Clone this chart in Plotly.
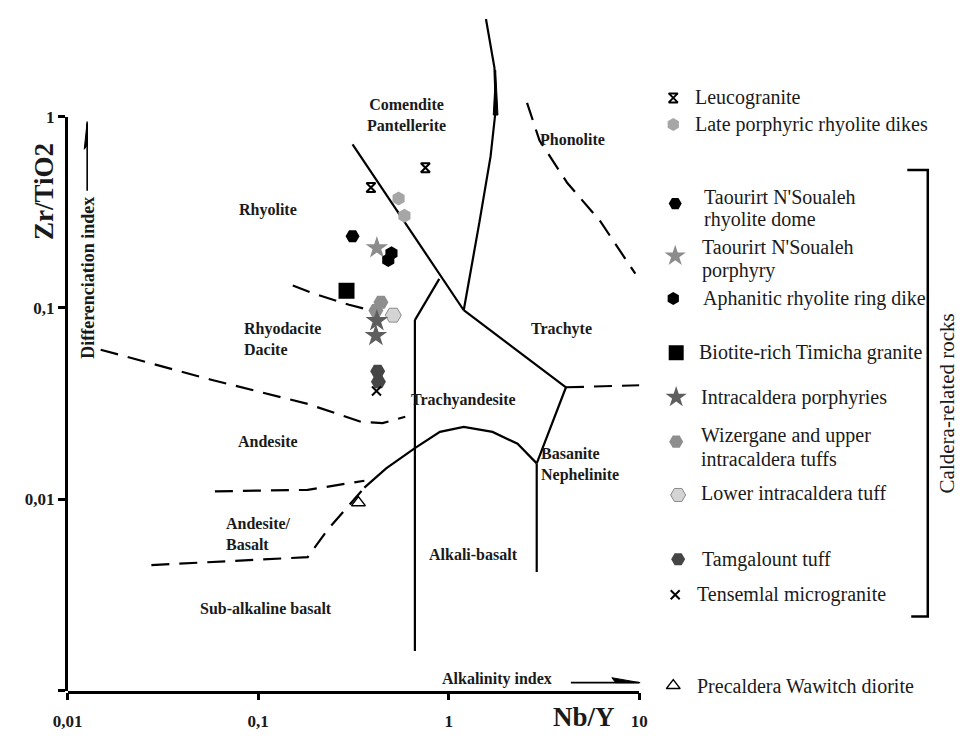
import plotly.graph_objects as go

# ---- figure geometry (pixels) ----
W, H = 968, 736
X0, X1 = 54, 640        # x axis: Nb/Y 0.01 .. 10
YB, YT = 690, 10        # y axis: Zr/TiO2 0.001 .. top of drawing
Y1 = 109                # pixel row of Zr/TiO2 = 1 (top of ruled axis)

# ---- field boundaries (Nb/Y, Zr/TiO2) ----
comendite_x = [0.313, 1.20]
comendite_y = [0.717, 0.0973]
phono_solid_x = [1.57, 1.74, 1.77, 1.66, 1.45, 1.20]
phono_solid_y = [3.24, 1.80, 1.11, 0.62, 0.28, 0.0973]
phono_head_x = [1.765, 1.715, 1.815, 1.765]
phono_head_y = [1.75, 1.02, 1.02, 1.75]
rhy_trachy_x = [0.893, 0.665]
rhy_trachy_y = [0.142, 0.0864]
subalk_x = [0.665, 0.665]
subalk_y = [0.0864, 0.00161]
trachyte_x = [1.20, 4.13, 2.90]
trachyte_y = [0.0973, 0.0385, 0.0154]
basanite_x = [2.90, 2.90]
basanite_y = [0.0154, 0.00417]
alkbas_x = [0.361, 0.47, 0.665, 0.90, 1.20, 1.70, 2.30, 2.90]
alkbas_y = [0.0115, 0.0145, 0.0185, 0.0225, 0.0239, 0.0225, 0.0195, 0.0154]

phon_trachy_x = [2.58, 3.0, 4.2, 6.25, 9.55]
phon_trachy_y = [1.18, 0.75, 0.45, 0.284, 0.151]
trachyte_tail_x = [4.13, 10.6]
trachyte_tail_y = [0.0385, 0.0395]
rhyodac_x = [0.152, 0.20, 0.30, 0.425]
rhyodac_y = [0.131, 0.118, 0.104, 0.095]
andesite_x = [0.0149, 0.056, 0.182, 0.347, 0.45, 0.592]
andesite_y = [0.0605, 0.0423, 0.0315, 0.0254, 0.0250, 0.0270]
andbas_x = [0.0593, 0.182, 0.361]
andbas_y = [0.0110, 0.0112, 0.0125]
subbas_x = [0.0275, 0.182, 0.230, 0.361]
subbas_y = [0.00453, 0.00498, 0.00687, 0.0115]

# ---- samples ----
leuco_x = [0.755, 0.391];   leuco_y = [0.541, 0.426]
dikes_x = [0.546, 0.586];   dikes_y = [0.374, 0.303]
dome_x = [0.313];           dome_y = [0.237]
tporph_x = [0.420];         tporph_y = [0.206]
aphan_x = [0.501, 0.482];   aphan_y = [0.193, 0.178]
biotite_x = [0.291];        biotite_y = [0.123]
wizer_x = [0.441, 0.415];   wizer_y = [0.107, 0.097]
lower_x = [0.512];          lower_y = [0.0917]
intra_x = [0.420, 0.415];   intra_y = [0.0857, 0.0717]
tamga_x = [0.424, 0.428];   tamga_y = [0.0467, 0.0412]
tensem_x = [0.418];         tensem_y = [0.0368]
diorite_x = [0.336];        diorite_y = [0.0096]

FONT = "Liberation Serif"
INK = "#1a1a1a"

fig = go.Figure()

def boundary(x, y, dash="solid", width=2.2):
    fig.add_trace(go.Scatter(x=x, y=y, mode="lines", showlegend=False, hoverinfo="skip",
                             line=dict(color="black", width=width, dash=dash)))

for bx, by in [(comendite_x, comendite_y), (phono_solid_x, phono_solid_y),
               (rhy_trachy_x, rhy_trachy_y), (subalk_x, subalk_y),
               (trachyte_x, trachyte_y), (basanite_x, basanite_y), (alkbas_x, alkbas_y)]:
    boundary(bx, by, "solid")
for bx, by in [(phon_trachy_x, phon_trachy_y), (trachyte_tail_x, trachyte_tail_y),
               (rhyodac_x, rhyodac_y), (andesite_x, andesite_y),
               (andbas_x, andbas_y), (subbas_x, subbas_y)]:
    boundary(bx, by, "18px,10px")

# slim arrowhead on the phonolite boundary
fig.add_trace(go.Scatter(x=phono_head_x, y=phono_head_y, mode="lines", fill="toself",
                         fillcolor="black", showlegend=False, hoverinfo="skip",
                         line=dict(color="black", width=1)))

# sample series: (x, y, symbol, size, fill, outline colour, outline width)
series = [
    (leuco_x, leuco_y, "hourglass-open", 9, "black", "black", 2),
    (dikes_x, dikes_y, "hexagon", 14, "#a6a6a6", "#a6a6a6", 0),
    (dome_x, dome_y, "hexagon2", 14, "black", "black", 0),
    (tporph_x, tporph_y, "star", 17, "#8c8c8c", "#8c8c8c", 0),
    (aphan_x, aphan_y, "hexagon", 14, "black", "black", 0),
    (biotite_x, biotite_y, "square", 16, "black", "black", 0),
    (wizer_x, wizer_y, "hexagon2", 15, "#8e8e8e", "#8e8e8e", 0),
    (lower_x, lower_y, "hexagon2", 16, "#d4d4d4", "#8a8a8a", 1),
    (intra_x, intra_y, "star", 17, "#5e5e5e", "#5e5e5e", 0),
    (tamga_x, tamga_y, "hexagon2", 15, "#454545", "#454545", 0),
    (tensem_x, tensem_y, "x-thin-open", 9, "black", "black", 2),
    (diorite_x, diorite_y, "triangle-up-open", 12, "black", "black", 1.5),
]
for sx, sy, sym, sz, fc, lc, lw in series:
    fig.add_trace(go.Scatter(x=sx, y=sy, mode="markers", showlegend=False, hoverinfo="skip",
                             marker=dict(symbol=sym, size=sz, color=fc,
                                         line=dict(color=lc, width=lw))))

# ruled y axis (0.001 .. 1) drawn on its own axis so it stops at 1
fig.add_trace(go.Scatter(x=[None], y=[None], xaxis="x", yaxis="y2", showlegend=False))

# ---- legend, drawn on a pixel overlay ----
# (symbol, size, fill, outline, outline width, marker x, marker y, text lines with their rows, text x)
legend_items = [
    ("hourglass-open", 9, "black", "black", 2, 675, 90, [("Leucogranite", 90)], 695),
    ("hexagon", 13, "#a6a6a6", "#a6a6a6", 0, 675, 117, [("Late porphyric rhyolite dikes", 117)], 695),
    ("hexagon2", 13, "black", "black", 0, 677, 197,
     [("Taourirt N'Soualeh", 190), ("rhyolite dome", 213)], 704),
    ("star", 16, "#8c8c8c", "#8c8c8c", 0, 677, 250,
     [("Taourirt N'Soualeh", 241), ("porphyry", 265)], 702),
    ("hexagon", 13, "black", "black", 0, 675, 293, [("Aphanitic rhyolite ring dike", 293)], 703),
    ("square", 15, "black", "black", 0, 678, 348, [("Biotite-rich Timicha granite", 348)], 699),
    ("star", 16, "#5e5e5e", "#5e5e5e", 0, 678, 393, [("Intracaldera porphyries", 393)], 701),
    ("hexagon2", 14, "#8e8e8e", "#8e8e8e", 0, 678, 438,
     [("Wizergane and upper", 432), ("intracaldera tuffs", 456)], 701),
    ("hexagon2", 15, "#d4d4d4", "#8a8a8a", 1, 680, 492, [("Lower intracaldera tuff", 490)], 701),
    ("hexagon2", 14, "#454545", "#454545", 0, 680, 557, [("Tamgalount tuff", 557)], 702),
    ("x-thin-open", 9, "black", "black", 2, 677, 593, [("Tensemlal microgranite", 593)], 697),
    ("triangle-up-open", 12, "black", "black", 1.5, 675, 685, [("Precaldera Wawitch diorite", 685)], 697),
]
annotations = []
for sym, sz, fc, lc, lw, mx, my, rows, tx in legend_items:
    fig.add_trace(go.Scatter(x=[mx], y=[my], xaxis="x3", yaxis="y3", mode="markers",
                             showlegend=False, hoverinfo="skip",
                             marker=dict(symbol=sym, size=sz, color=fc, line=dict(color=lc, width=lw))))
    for ln, yy in rows:
        annotations.append(dict(x=tx, y=yy, xref="x3", yref="y3", text=ln, showarrow=False,
                                xanchor="left", yanchor="middle",
                                font=dict(family=FONT, size=20, color=INK)))

# bracket grouping the caldera-related units
fig.add_trace(go.Scatter(x=[915, 936, 936, 919], y=[163, 163, 615, 615], xaxis="x3", yaxis="y3",
                         mode="lines", showlegend=False, hoverinfo="skip",
                         line=dict(color="black", width=2.5)))
annotations.append(dict(x=956, y=399, xref="x3", yref="y3", text="Caldera-related rocks",
                        showarrow=False, textangle=-90,
                        font=dict(family=FONT, size=21, color=INK)))

# ---- axis arrows (half-headed) ----
fig.add_trace(go.Scatter(x=[74, 74], y=[184, 116], xaxis="x3", yaxis="y3", mode="lines",
                         showlegend=False, hoverinfo="skip", line=dict(color="black", width=1.6)))
fig.add_trace(go.Scatter(x=[74, 71, 74, 74], y=[114, 142, 138, 114], xaxis="x3", yaxis="y3",
                         mode="lines", fill="toself", fillcolor="black", showlegend=False,
                         hoverinfo="skip", line=dict(color="black", width=1)))
fig.add_trace(go.Scatter(x=[570, 640], y=[682, 682], xaxis="x3", yaxis="y3", mode="lines",
                         showlegend=False, hoverinfo="skip", line=dict(color="black", width=1.6)))
fig.add_trace(go.Scatter(x=[641, 612, 616, 641], y=[682, 677, 682, 682], xaxis="x3", yaxis="y3",
                         mode="lines", fill="toself", fillcolor="black", showlegend=False,
                         hoverinfo="skip", line=dict(color="black", width=1)))

annotations.append(dict(x=75, y=272, xref="x3", yref="y3", text="<b>Differenciation index</b>",
                        showarrow=False, textangle=-90, font=dict(family=FONT, size=18, color=INK)))
annotations.append(dict(x=29, y=185, xref="x3", yref="y3", text="<b>Zr/TiO2</b>",
                        showarrow=False, textangle=-90, font=dict(family=FONT, size=27, color=INK)))
annotations.append(dict(x=494, y=678, xref="x3", yref="y3", text="<b>Alkalinity index</b>",
                        showarrow=False, font=dict(family=FONT, size=16, color=INK)))
annotations.append(dict(x=583, y=717, xref="x3", yref="y3", text="<b>Nb/Y</b>",
                        showarrow=False, font=dict(family=FONT, size=27, color=INK)))

# ---- field names (positions in log10 units) ----
fields = [
    ("Comendite<br>Pantellerite", -0.22, 0.01, "center"),
    ("Phonolite", 0.65, -0.12, "center"),
    ("Rhyolite", -0.95, -0.49, "center"),
    ("Trachyte", 0.59, -1.11, "center"),
    ("Rhyodacite<br>Dacite", -0.87, -1.16, "left"),
    ("Trachyandesite", 0.08, -1.48, "center"),
    ("Andesite", -0.95, -1.70, "center"),
    ("Basanite<br>Nephelinite", 0.69, -1.82, "left"),
    ("Andesite/<br>Basalt", -1.0, -2.18, "left"),
    ("Alkali-basalt", 0.13, -2.29, "center"),
    ("Sub-alkaline basalt", -0.96, -2.57, "center"),
]
for txt, lx, ly, al in fields:
    annotations.append(dict(x=lx, y=ly, xref="x", yref="y", text="<b>" + txt + "</b>",
                            showarrow=False, align=al,
                            font=dict(family=FONT, size=16, color=INK)))

tick_font = dict(family=FONT, size=17, color=INK)
fig.update_layout(
    width=W, height=H, margin=dict(l=0, r=0, t=0, b=0),
    paper_bgcolor="white", plot_bgcolor="rgba(0,0,0,0)",
    showlegend=False, annotations=annotations,
    xaxis=dict(type="log", range=[-2, 1], domain=[X0 / W, X1 / W], anchor="y",
               showline=True, linecolor="black", linewidth=2.5, mirror=False,
               ticks="outside", ticklen=7, tickwidth=2.5, tickcolor="black",
               ticklabelstandoff=6,
               tickvals=[0.01, 0.1, 1, 10], ticktext=["<b>0,01</b>", "<b>0,1</b>", "<b>1</b>", "<b>10</b>"],
               tickfont=tick_font, showgrid=False, zeroline=False),
    yaxis=dict(type="log", range=[-3, (YB - YT) / ((YB - Y1) / 3.0) - 3], domain=[(H - YB) / H, (H - YT) / H],
               anchor="x", visible=False, showgrid=False, zeroline=False),
    yaxis2=dict(type="log", range=[-3, 0], domain=[(H - YB) / H, (H - Y1) / H], anchor="x",
                showline=True, linecolor="black", linewidth=2.5,
                ticks="outside", ticklen=7, tickwidth=2.5, tickcolor="black",
                tickvals=[0.001, 0.01, 0.1, 1], ticktext=["", "<b>0,01</b>", "<b>0,1</b>", "<b>1</b>"],
                tickfont=tick_font, showgrid=False, zeroline=False),
    xaxis3=dict(range=[0, W], domain=[0, 1], anchor="y3", visible=False, fixedrange=True),
    yaxis3=dict(range=[H, 0], domain=[0, 1], anchor="x3", visible=False, fixedrange=True),
)

fig.write_html("out.html")
